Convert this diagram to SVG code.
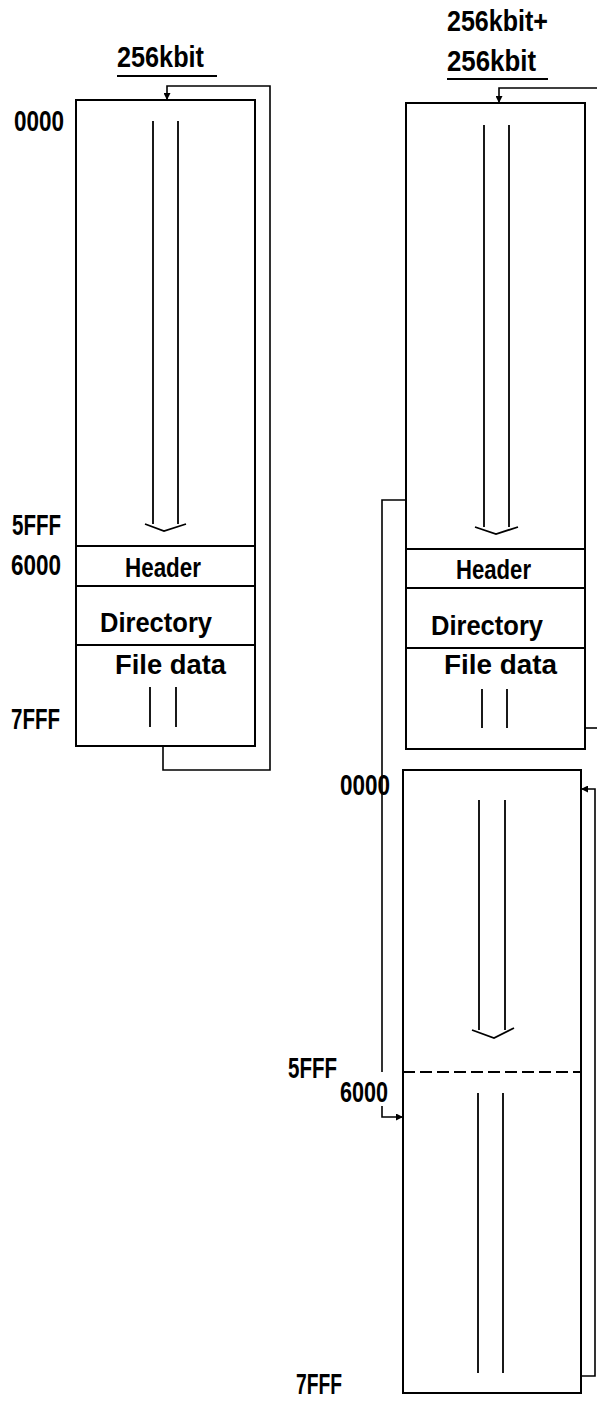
<svg xmlns="http://www.w3.org/2000/svg" width="597" height="1404" viewBox="0 0 597 1404">
<style>
.box{fill:none;stroke:#000;stroke-width:2}
.ln{fill:none;stroke:#000;stroke-width:1.8}
.cn{fill:none;stroke:#000;stroke-width:1.6}
.dash{fill:none;stroke:#000;stroke-width:1.8;stroke-dasharray:12 5}
text{font-family:"Liberation Sans",Arial,sans-serif;font-weight:bold;fill:#000}
.lab{font-size:29px}
.t{font-size:28px}
</style>
<defs>
<marker id="ah" viewBox="0 0 10 10" refX="10" refY="5" markerWidth="7" markerHeight="7" markerUnits="userSpaceOnUse" orient="auto">
<path d="M0,0 L10,5 L0,10 Z" fill="#000"/>
</marker>
</defs>
<rect width="597" height="1404" fill="#fff"/>

<g id="title-left">
<text class="lab" x="117" y="67" textLength="87" lengthAdjust="spacingAndGlyphs">256kbit</text>
<line class="ln" x1="117" y1="76" x2="217" y2="76"/>
</g>
<g id="title-right">
<text class="lab" x="447" y="31" textLength="101" lengthAdjust="spacingAndGlyphs">256kbit+</text>
<text class="lab" x="447" y="71" textLength="89" lengthAdjust="spacingAndGlyphs">256kbit</text>
<line class="ln" x1="447" y1="79" x2="548" y2="79"/>
</g>

<g id="block-left">
<rect class="box" x="76" y="100" width="179" height="646"/>
<line class="box" x1="76" y1="546" x2="255" y2="546"/>
<line class="box" x1="76" y1="586" x2="255" y2="586"/>
<line class="box" x1="76" y1="645" x2="255" y2="645"/>
<line class="ln" x1="153" y1="121" x2="153" y2="524"/>
<line class="ln" x1="178" y1="121" x2="178" y2="524"/>
<polyline class="ln" points="145,524 164,531 186,524"/>
<text class="t" x="125" y="577" textLength="76" lengthAdjust="spacingAndGlyphs">Header</text>
<text class="t" x="100" y="632" textLength="112" lengthAdjust="spacingAndGlyphs">Directory</text>
<text class="t" x="115" y="674" textLength="111" lengthAdjust="spacingAndGlyphs">File data</text>
<line class="ln" x1="150" y1="687" x2="150" y2="727"/>
<line class="ln" x1="176" y1="687" x2="176" y2="727"/>
<text class="lab" x="14" y="131" textLength="50" lengthAdjust="spacingAndGlyphs">0000</text>
<text class="lab" x="12" y="535" textLength="49" lengthAdjust="spacingAndGlyphs">5FFF</text>
<text class="lab" x="11" y="575" textLength="50" lengthAdjust="spacingAndGlyphs">6000</text>
<text class="lab" x="11" y="729" textLength="49" lengthAdjust="spacingAndGlyphs">7FFF</text>
</g>

<g id="block-right-top">
<rect class="box" x="406" y="103" width="179" height="646"/>
<line class="box" x1="406" y1="549" x2="585" y2="549"/>
<line class="box" x1="406" y1="588" x2="585" y2="588"/>
<line class="box" x1="406" y1="648" x2="585" y2="648"/>
<line class="ln" x1="484" y1="125" x2="484" y2="527"/>
<line class="ln" x1="509" y1="125" x2="509" y2="527"/>
<polyline class="ln" points="475,527 496,534 518,527"/>
<text class="t" x="456" y="579" textLength="75" lengthAdjust="spacingAndGlyphs">Header</text>
<text class="t" x="431" y="635" textLength="112" lengthAdjust="spacingAndGlyphs">Directory</text>
<text class="t" x="444" y="674" textLength="113" lengthAdjust="spacingAndGlyphs">File data</text>
<line class="ln" x1="482" y1="689" x2="482" y2="728"/>
<line class="ln" x1="507" y1="689" x2="507" y2="728"/>
</g>

<g id="block-right-bottom">
<rect class="box" x="403" y="770" width="178" height="623"/>
<line class="dash" x1="403" y1="1072" x2="581" y2="1072"/>
<line class="ln" x1="479" y1="800" x2="479" y2="1030"/>
<line class="ln" x1="505" y1="800" x2="505" y2="1030"/>
<polyline class="ln" points="472,1030 494,1038 514,1028"/>
<line class="ln" x1="478" y1="1093" x2="478" y2="1373"/>
<line class="ln" x1="503" y1="1093" x2="503" y2="1373"/>
<text class="lab" x="340" y="795" textLength="50" lengthAdjust="spacingAndGlyphs">0000</text>
<text class="lab" x="288" y="1078" textLength="49" lengthAdjust="spacingAndGlyphs">5FFF</text>
<text class="lab" x="340" y="1102" textLength="48" lengthAdjust="spacingAndGlyphs">6000</text>
<text class="lab" x="296" y="1394" textLength="46" lengthAdjust="spacingAndGlyphs">7FFF</text>
</g>

<g id="connectors">
<path class="cn" d="M163,746 V770 H270 V86 H167 V100" marker-end="url(#ah)"/>
<path class="cn" d="M600,88 H499 V103" marker-end="url(#ah)"/>
<line class="cn" x1="585" y1="728" x2="600" y2="728"/>
<path class="cn" d="M406,500 H382 V1072 M382,1106 V1117 H403" marker-end="url(#ah)"/>
<path class="cn" d="M581,1376 H595 V789 H581" marker-end="url(#ah)"/>
</g>
</svg>
